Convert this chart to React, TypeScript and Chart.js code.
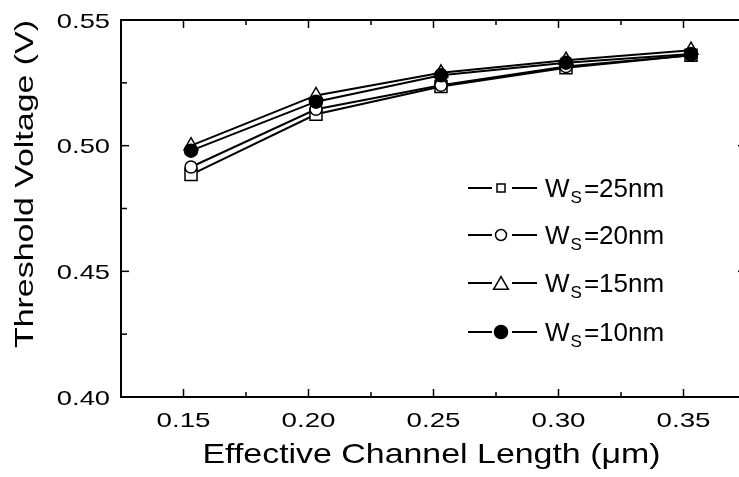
import React, { useEffect, useRef } from "react";
import { Chart, registerables } from "chart.js";

Chart.register(...registerables);

// ---- data ----
const channelLength = [0.153, 0.203, 0.253, 0.303, 0.353];
const vthWs25 = [0.4885, 0.5125, 0.5235, 0.531, 0.536];
const vthWs20 = [0.4915, 0.5145, 0.524, 0.5315, 0.536];
const vthWs15 = [0.5, 0.52, 0.529, 0.534, 0.538];
const vthWs10 = [0.498, 0.5175, 0.528, 0.533, 0.5365];
const seriesLabels = ["25nm", "20nm", "15nm", "10nm"];
const xTickLabels = ["0.15", "0.20", "0.25", "0.30", "0.35"];
const xMinorTicks = [0.175, 0.225, 0.275, 0.325];
const yTickLabels = ["0.40", "0.45", "0.50", "0.55"];
const yMinorTicks = [0.425, 0.475, 0.525];
const xTitle = "Effective Channel Length (\u03BCm)";
const yTitle = "Threshold Voltage (V)";

const FONT = '"Liberation Sans", Arial, Helvetica, sans-serif';
const CANVAS_W = 760;
const CANVAS_H = 477;
const PLOT_LEFT = 121;
const PLOT_TOP = 20;
const PLOT_RIGHT = 746;
const PLOT_BOTTOM = 397;

type Marker = "rect" | "circle" | "triangle";

const seriesStyles: { marker: Marker; fill: string; radius: number }[] = [
  { marker: "rect", fill: "#ffffff", radius: 8.5 },
  { marker: "circle", fill: "#ffffff", radius: 6 },
  { marker: "triangle", fill: "#ffffff", radius: 8 },
  { marker: "circle", fill: "#000000", radius: 6.5 },
];

function stretchText(
  ctx: CanvasRenderingContext2D,
  text: string,
  x: number,
  y: number,
  sx: number,
  align: CanvasTextAlign
) {
  ctx.save();
  ctx.translate(x, y);
  ctx.scale(sx, 1);
  ctx.textAlign = align;
  ctx.fillText(text, 0, 0);
  ctx.restore();
}

function drawLegendMarker(
  ctx: CanvasRenderingContext2D,
  marker: Marker,
  filled: boolean,
  cx: number,
  cy: number
) {
  ctx.beginPath();
  if (marker === "rect") {
    ctx.rect(cx - 4, cy - 4, 8, 8);
  } else if (marker === "circle") {
    ctx.arc(cx, cy, filled ? 6.5 : 5.5, 0, Math.PI * 2);
  } else {
    const r = 8.5;
    for (let i = 0; i < 3; i++) {
      const a = (i * 2 * Math.PI) / 3;
      const px = cx + Math.sin(a) * r;
      const py = cy + 2 - Math.cos(a) * r;
      if (i === 0) ctx.moveTo(px, py);
      else ctx.lineTo(px, py);
    }
    ctx.closePath();
  }
  ctx.fillStyle = filled ? "#000" : "#fff";
  ctx.fill();
  ctx.lineWidth = 1.5;
  ctx.strokeStyle = "#000";
  ctx.stroke();
}

const framePlugin = {
  id: "originFrame",
  afterDatasetsDraw(chart: any) {
    const { ctx, chartArea: a } = chart;
    const xs = chart.scales.x;
    const ys = chart.scales.y;
    ctx.save();
    ctx.strokeStyle = "#000";
    ctx.lineWidth = 2;
    ctx.strokeRect(a.left, a.top, a.right - a.left, a.bottom - a.top);
    ctx.lineWidth = 1.5;
    const seg = (x1: number, y1: number, x2: number, y2: number) => {
      ctx.beginPath();
      ctx.moveTo(x1, y1);
      ctx.lineTo(x2, y2);
      ctx.stroke();
    };
    xTickLabels.forEach((l) => {
      const px = xs.getPixelForValue(parseFloat(l));
      seg(px, a.bottom, px, a.bottom - 8);
      seg(px, a.top, px, a.top + 8);
    });
    xMinorTicks.forEach((v) => {
      const px = xs.getPixelForValue(v);
      seg(px, a.bottom, px, a.bottom - 5);
      seg(px, a.top, px, a.top + 5);
    });
    yTickLabels.forEach((l) => {
      const py = ys.getPixelForValue(parseFloat(l));
      seg(a.left, py, a.left + 8, py);
      seg(a.right, py, a.right - 8, py);
    });
    yMinorTicks.forEach((v) => {
      const py = ys.getPixelForValue(v);
      seg(a.left, py, a.left + 6, py);
      seg(a.right, py, a.right - 6, py);
    });

    // tick labels
    ctx.fillStyle = "#000";
    ctx.textBaseline = "alphabetic";
    ctx.font = `21px ${FONT}`;
    xTickLabels.forEach((l) => {
      stretchText(ctx, l, xs.getPixelForValue(parseFloat(l)), a.bottom + 30, 1.32, "center");
    });
    yTickLabels.forEach((l) => {
      stretchText(ctx, l, a.left - 11, ys.getPixelForValue(parseFloat(l)) + 7.5, 1.3, "right");
    });

    // x title
    ctx.font = `28px ${FONT}`;
    const wx = ctx.measureText(xTitle).width;
    stretchText(ctx, xTitle, (a.left + a.right) / 2 - 2, 463, 458 / wx, "center");

    // y title (rotated)
    ctx.font = `25px ${FONT}`;
    const wy = ctx.measureText(yTitle).width;
    ctx.save();
    ctx.translate(33, 184);
    ctx.rotate(-Math.PI / 2);
    ctx.scale(328 / wy, 1);
    ctx.textAlign = "center";
    ctx.fillText(yTitle, 0, 0);
    ctx.restore();

    // legend
    const rowY = [188, 235, 283, 332];
    seriesLabels.forEach((lab, i) => {
      const y = rowY[i];
      const st = seriesStyles[i];
      ctx.strokeStyle = "#000";
      ctx.lineWidth = 2;
      seg(468, y, 492, y);
      seg(512, y, 537, y);
      drawLegendMarker(ctx, st.marker, st.fill === "#000000", 501, y);
      ctx.fillStyle = "#000";
      ctx.textAlign = "left";
      ctx.font = `26px ${FONT}`;
      ctx.fillText("W", 545, y + 9);
      const wW = ctx.measureText("W").width;
      ctx.font = `17px ${FONT}`;
      ctx.fillText("S", 545 + wW + 1, y + 15);
      const wS = ctx.measureText("S").width;
      ctx.font = `26px ${FONT}`;
      ctx.fillText("=" + lab, 545 + wW + wS + 3, y + 9);
    });
    ctx.restore();
  },
};

export default function App() {
  const ref = useRef<HTMLCanvasElement>(null);
  useEffect(() => {
    const canvas = ref.current;
    if (!canvas) return;
    const values = [vthWs25, vthWs20, vthWs15, vthWs10];
    const datasets = values.map((vals, i) => ({
      label: "Ws=" + seriesLabels[i],
      data: channelLength.map((x, j) => ({ x, y: vals[j] })),
      showLine: true,
      borderColor: "#000",
      borderWidth: 2,
      pointStyle: seriesStyles[i].marker,
      pointRadius: seriesStyles[i].radius,
      pointBorderWidth: 1.5,
      pointBackgroundColor: seriesStyles[i].fill,
      pointBorderColor: "#000",
      tension: 0,
      fill: false,
      order: 3 - i,
    }));
    const chart = new Chart(canvas, {
      type: "scatter",
      data: { datasets },
      options: {
        animation: false,
        responsive: false,
        devicePixelRatio: 1,
        events: [],
        layout: {
          padding: { top: PLOT_TOP, right: CANVAS_W - PLOT_RIGHT, left: 0, bottom: 0 },
        },
        plugins: { legend: { display: false }, tooltip: { enabled: false } },
        scales: {
          x: {
            type: "linear",
            min: 0.125,
            max: 0.375,
            ticks: { display: false },
            grid: { display: false, drawTicks: false },
            border: { display: false },
            afterFit: (s: any) => {
              s.height = CANVAS_H - PLOT_BOTTOM;
            },
          },
          y: {
            type: "linear",
            min: 0.4,
            max: 0.55,
            ticks: { display: false },
            grid: { display: false, drawTicks: false },
            border: { display: false },
            afterFit: (s: any) => {
              s.width = PLOT_LEFT;
            },
          },
        },
      },
      plugins: [framePlugin],
    } as any);
    return () => chart.destroy();
  }, []);
  return (
    <div
      style={{
        position: "fixed",
        left: 0,
        top: 0,
        width: 739,
        height: 477,
        overflow: "hidden",
        background: "#fff",
      }}
    >
      <canvas
        ref={ref}
        width={CANVAS_W}
        height={CANVAS_H}
        style={{ display: "block", width: CANVAS_W, height: CANVAS_H }}
      />
    </div>
  );
}
